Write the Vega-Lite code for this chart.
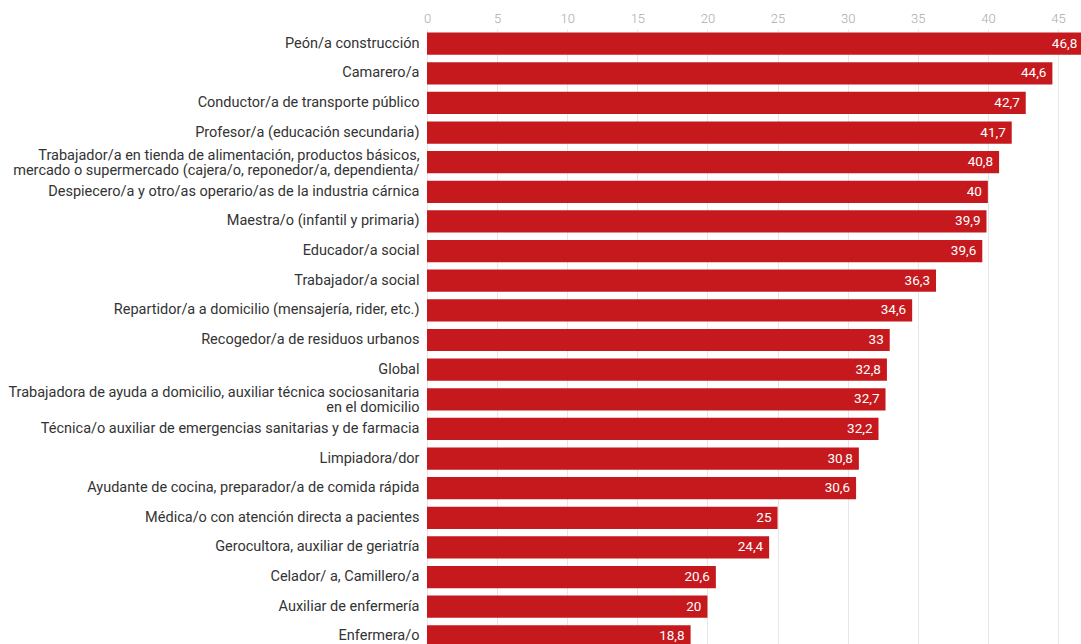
{
  "$schema": "https://vega.github.io/schema/vega-lite/v6.json",
  "autosize": "none",
  "width": 631,
  "height": 622,
  "padding": {"left": 427, "top": 29, "right": 23, "bottom": 0},
  "background": "white",
  "config": {
    "view": {"stroke": null},
    "font": "Roboto",
    "locale": {
      "number": {"decimal": ",", "thousands": ".", "grouping": [3], "currency": ["", " €"]}
    }
  },
  "data": {
    "values": [
      {"ocupacion": "Peón/a construcción", "valor": 46.8},
      {"ocupacion": "Camarero/a", "valor": 44.6},
      {"ocupacion": "Conductor/a de transporte público", "valor": 42.7},
      {"ocupacion": "Profesor/a (educación secundaria)", "valor": 41.7},
      {"ocupacion": "Trabajador/a en tienda de alimentación, productos básicos,|mercado o supermercado (cajera/o, reponedor/a, dependienta/", "valor": 40.8},
      {"ocupacion": "Despiecero/a y otro/as operario/as de la industria cárnica", "valor": 40},
      {"ocupacion": "Maestra/o (infantil y primaria)", "valor": 39.9},
      {"ocupacion": "Educador/a social", "valor": 39.6},
      {"ocupacion": "Trabajador/a social", "valor": 36.3},
      {"ocupacion": "Repartidor/a a domicilio (mensajería, rider, etc.)", "valor": 34.6},
      {"ocupacion": "Recogedor/a de residuos urbanos", "valor": 33},
      {"ocupacion": "Global", "valor": 32.8},
      {"ocupacion": "Trabajadora de ayuda a domicilio, auxiliar técnica sociosanitaria|en el domicilio", "valor": 32.7},
      {"ocupacion": "Técnica/o auxiliar de emergencias sanitarias y de farmacia", "valor": 32.2},
      {"ocupacion": "Limpiadora/dor", "valor": 30.8},
      {"ocupacion": "Ayudante de cocina, preparador/a de comida rápida", "valor": 30.6},
      {"ocupacion": "Médica/o con atención directa a pacientes", "valor": 25},
      {"ocupacion": "Gerocultora, auxiliar de geriatría", "valor": 24.4},
      {"ocupacion": "Celador/ a, Camillero/a", "valor": 20.6},
      {"ocupacion": "Auxiliar de enfermería", "valor": 20},
      {"ocupacion": "Enfermera/o", "valor": 18.8}
    ]
  },
  "encoding": {
    "y": {
      "field": "ocupacion",
      "type": "nominal",
      "sort": null,
      "scale": {"paddingInner": 0.25, "paddingOuter": 0.12},
      "axis": {
        "title": null,
        "domain": false,
        "ticks": false,
        "labelPadding": 8,
        "labelFontSize": 14.5,
        "labelColor": "#333333",
        "labelLimit": 430,
        "labelLineHeight": 15,
        "labelExpr": "split(datum.label, '|')",
        "labelOffset": {
          "condition": {"test": "indexof(datum.value, '|') >= 0", "value": -6},
          "value": 0
        }
      }
    },
    "x": {
      "field": "valor",
      "type": "quantitative",
      "scale": {"domain": [0, 45], "nice": false},
      "axis": {
        "orient": "top",
        "title": null,
        "domain": false,
        "ticks": false,
        "values": [0, 5, 10, 15, 20, 25, 30, 35, 40, 45],
        "labelPadding": 4,
        "labelFontSize": 13,
        "labelColor": "#aaaaaa",
        "labelFontWeight": 300,
        "gridColor": "#e6e6e6",
        "labelFlush": false
      }
    }
  },
  "layer": [
    {"mark": {"type": "bar", "color": "#c5191d"}},
    {
      "mark": {"type": "text", "align": "right", "dx": -6, "color": "white", "fontSize": 13.5, "baseline": "middle"},
      "encoding": {
        "text": {"field": "valor", "type": "quantitative", "format": ".1~f"}
      }
    }
  ]
}
